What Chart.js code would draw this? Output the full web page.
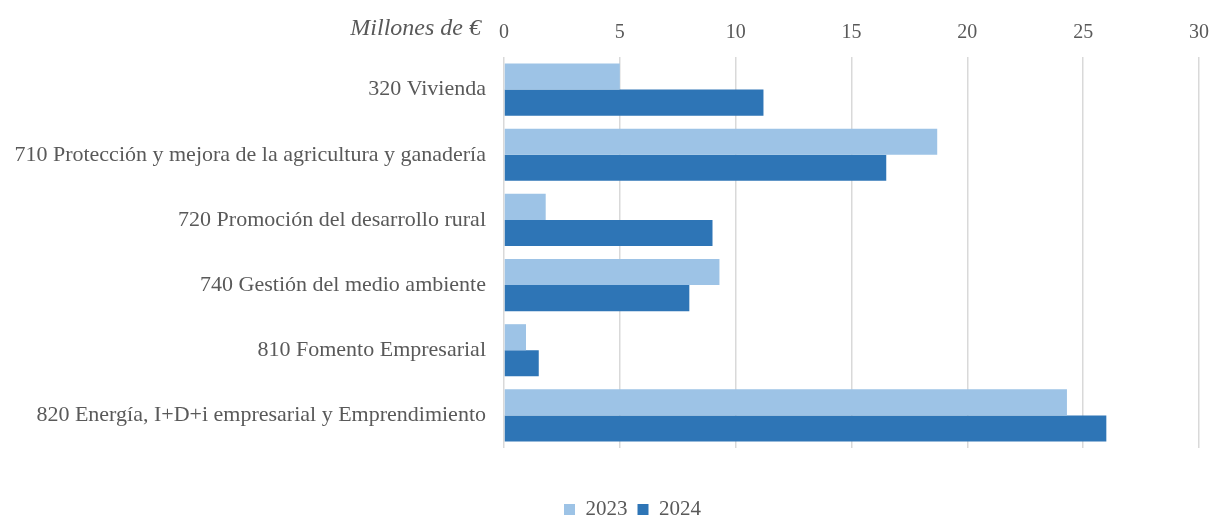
<!DOCTYPE html>
<html>
<head>
<meta charset="utf-8">
<script src="https://cdn.jsdelivr.net/npm/chart.js@4.4.1/dist/chart.umd.min.js"></script>
<style>
    html, body { margin: 0; padding: 0; background: #fff; }
    .chart-box { width: 1211px; height: 516px; }
</style>
</head>
<body>
<div class="chart-box">
    <canvas id="myChart"></canvas>
</div>
<script>
const categories = [
    "320 Vivienda",
    "710 Protección y mejora de la agricultura y ganadería",
    "720 Promoción del desarrollo rural",
    "740 Gestión del medio ambiente",
    "810 Fomento Empresarial",
    "820 Energía, I+D+i empresarial y Emprendimiento"
];
const values2023 = [5.0, 18.7, 1.8, 9.3, 0.95, 24.3];
const values2024 = [11.2, 16.5, 9.0, 8.0, 1.5, 26.0];
const axisTitle = "Millones de €";

const FONT = "'Liberation Serif', 'Times New Roman', serif";
const TEXT = "#595959";

// unit label to the left of the top ticks
const unitLabel = {
    id: "unitLabel",
    afterDraw(chart) {
        const ctx = chart.ctx;
        ctx.save();
        ctx.font = "italic 24px " + FONT;
        ctx.fillStyle = TEXT;
        ctx.textAlign = "right";
        ctx.textBaseline = "middle";
        ctx.fillText(axisTitle, chart.chartArea.left - 23, 29);
        ctx.restore();
    }
};

// nudge the legend a bit to the right, like the original
const legendShift = {
    id: "legendShift",
    afterLayout(chart) {
        chart.legend.left += 27;
        chart.legend.right += 27;
    }
};

const data = {
    labels: categories,
    datasets: [
        {
            label: "2023",
            data: values2023,
            backgroundColor: "#9DC3E6",
            borderWidth: 0
        },
        {
            label: "2024",
            data: values2024,
            backgroundColor: "#2E75B6",
            borderWidth: 0
        }
    ]
};

const config = {
    type: "bar",
    data,
    plugins: [unitLabel, legendShift],
    options: {
        indexAxis: "y",
        responsive: true,
        maintainAspectRatio: false,
        animation: false,
        layout: {
            padding: { top: 8, right: 0, bottom: -14, left: 0 }
        },
        datasets: {
            bar: { categoryPercentage: 0.8, barPercentage: 1.0 }
        },
        scales: {
            x: {
                position: "top",
                min: 0,
                max: 30,
                ticks: {
                    stepSize: 5,
                    padding: 12,
                    color: TEXT,
                    font: { family: FONT, size: 20 }
                },
                grid: { color: "#D9D9D9", lineWidth: 1.5, drawTicks: false },
                border: { display: false },
                afterFit: s => {
                    s.height = 49;
                    s.paddingLeft = 0;
                    s.paddingRight = 12;
                }
            },
            // empty band between the bars and the legend
            spacer: {
                axis: "x",
                type: "linear",
                position: "bottom",
                ticks: { display: false },
                grid: { display: false },
                border: { display: false },
                afterFit: s => {
                    s.height = 41;
                    s.paddingLeft = 0;
                    s.paddingRight = 0;
                }
            },
            y: {
                ticks: {
                    padding: 10,
                    color: TEXT,
                    font: { family: FONT, size: 22 }
                },
                grid: { display: false },
                border: { display: false },
                afterFit: s => { s.width = 504; }
            }
        },
        plugins: {
            legend: {
                position: "bottom",
                labels: {
                    boxWidth: 11,
                    boxHeight: 11,
                    padding: 10,
                    color: TEXT,
                    font: { family: FONT, size: 21 }
                }
            },
            tooltip: { enabled: false }
        }
    }
};

window.myChart = new Chart(document.getElementById("myChart"), config);
</script>
</body>
</html>
